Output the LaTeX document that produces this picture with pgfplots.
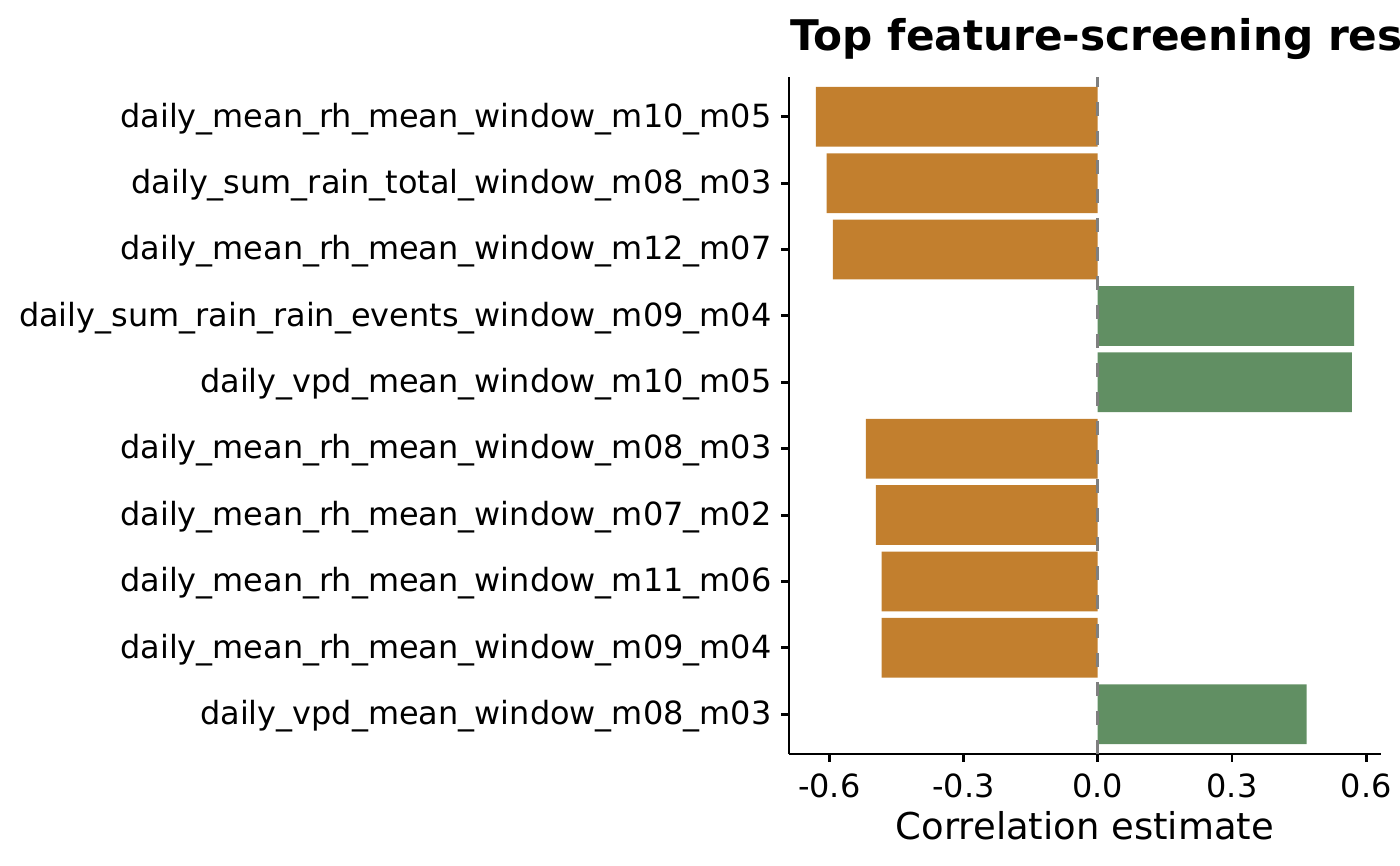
\documentclass[border=0pt]{standalone}
\usepackage{fontspec}
\setmainfont{DejaVu Sans}
\usepackage{pgfplots}
\usepackage{pgfplotstable}
\pgfplotsset{compat=1.18}

\definecolor{negcol}{HTML}{C27F2E}
\definecolor{poscol}{HTML}{618F63}
\definecolor{refgray}{HTML}{7F7F7F}

% row 1 = bottom bar, row 10 = top bar
\pgfplotstableread{
val pos
-0.483 2
-0.483 3
-0.496 4
-0.518 5
-0.592 8
-0.606 9
-0.630 10
}\negtable
\pgfplotstableread{
val pos
0.467 1
0.568 6
0.573 7
}\postable

\begin{document}
\begin{tikzpicture}
\begin{axis}[
    at={(284.04pt,39.96pt)}, anchor=south west,
    width=213.12pt, height=243.72pt, scale only axis,
    xmin=-0.69, xmax=0.633,
    ymin=0.4, ymax=10.6,
    axis lines*=left,
    axis line style={-, line width=1.07pt, black},
    tick align=outside,
    major tick length=2.74pt,
    tick style={line width=1.07pt, black},
    xtick={-0.6,-0.3,0,0.3,0.6},
    xticklabels={-0.6,-0.3,0.0,0.3,0.6},
    ytick={1,...,10},
    yticklabels={
        daily\_vpd\_mean\_window\_m08\_m03,
        daily\_mean\_rh\_mean\_window\_m09\_m04,
        daily\_mean\_rh\_mean\_window\_m11\_m06,
        daily\_mean\_rh\_mean\_window\_m07\_m02,
        daily\_mean\_rh\_mean\_window\_m08\_m03,
        daily\_vpd\_mean\_window\_m10\_m05,
        daily\_sum\_rain\_rain\_events\_window\_m09\_m04,
        daily\_mean\_rh\_mean\_window\_m12\_m07,
        daily\_sum\_rain\_total\_window\_m08\_m03,
        daily\_mean\_rh\_mean\_window\_m10\_m05},
    xticklabel style={anchor=base, inner sep=0pt, yshift=-12.8pt,
        font=\fontsize{11.5}{13}\selectfont},
    yticklabel style={anchor=base east, inner sep=0pt, xshift=-3.4pt, yshift=-3.7pt,
        font=\fontsize{11.5}{13}\selectfont},
    xlabel={Correlation estimate},
    xlabel style={at={(axis description cs:0.5,-0.1256)}, anchor=base, inner sep=0pt,
        font=\fontsize{13.3}{15}\selectfont},
]
    \addplot[xbar, bar width=0.9, bar shift=0pt, fill=negcol, draw=none]
        table[x=val, y=pos] {\negtable};
    \addplot[xbar, bar width=0.9, bar shift=0pt, fill=poscol, draw=none]
        table[x=val, y=pos] {\postable};
    % reference line at zero
    \addplot[refgray, line width=1.2pt, dash pattern=on 5.04pt off 5.4pt, mark=none]
        coordinates {(0,0.4) (0,10.6)};
\end{axis}
\node[anchor=base west, inner sep=0pt, font=\bfseries\fontsize{15.2}{18}\selectfont]
    at (284.4pt,293.04pt) {Top feature-screening results};
\pgfresetboundingbox
\useasboundingbox (0,0) rectangle (504pt,311.4pt);
\end{tikzpicture}
\end{document}
